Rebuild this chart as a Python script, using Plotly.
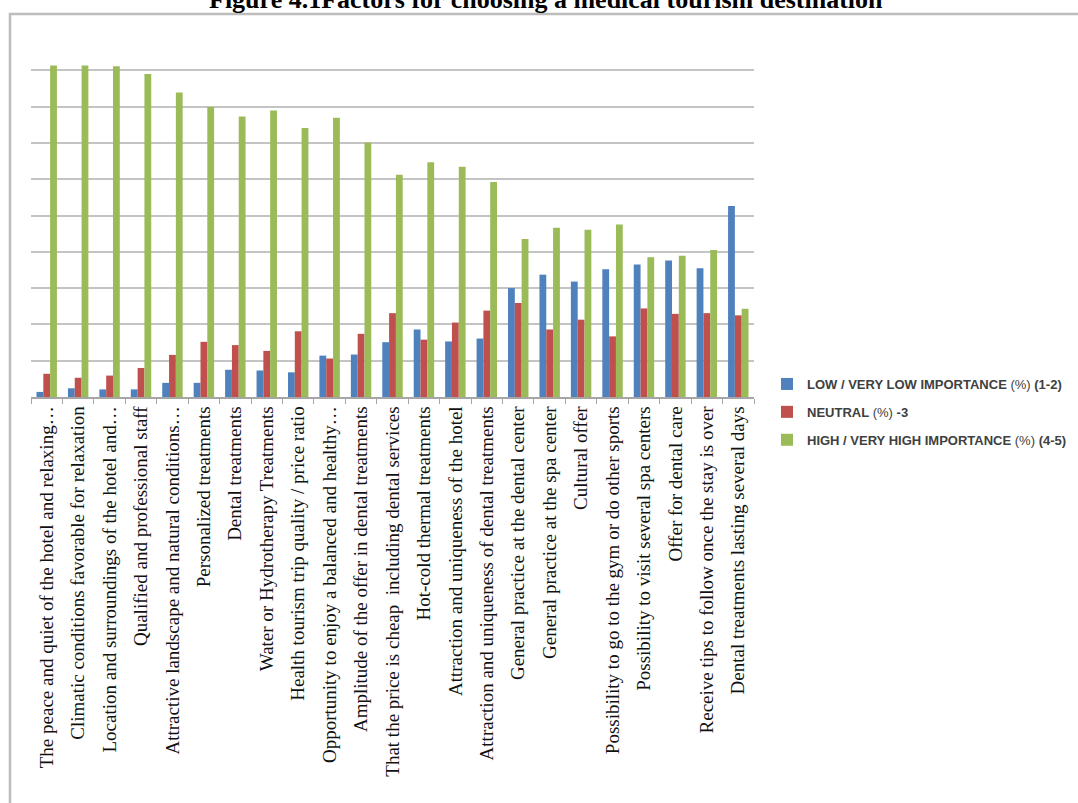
import plotly.graph_objects as go

# Survey factors (x-axis categories)
factors = [
    "The peace and quiet of the hotel and relaxing…",
    "Climatic conditions favorable for relaxation",
    "Location and surroundings of the hotel and…",
    "Qualified and professional staff",
    "Attractive landscape and natural conditions…",
    "Personalized treatments",
    "Dental treatments",
    "Water or Hydrotherapy Treatments",
    "Health tourism trip quality / price ratio",
    "Opportunity to enjoy a balanced and healthy…",
    "Amplitude of the offer in dental treatments",
    "That the price is cheap  including dental services",
    "Hot-cold thermal treatments",
    "Attraction and uniqueness of the hotel",
    "Attraction and uniqueness of dental treatments",
    "General practice at the dental center",
    "General practice at the spa center",
    "Cultural offer",
    "Possibility to go to the gym or do other sports",
    "Possibility to visit several spa centers",
    "Offer for dental care",
    "Receive tips to follow once the stay is over",
    "Dental treatments lasting several days",
]

# Share of respondents (%) per importance level
low_importance = [1.4, 2.4, 2.1, 2.1, 3.9, 3.9, 7.5, 7.3, 6.8, 11.4, 11.7, 15.1,
                  18.6, 15.3, 16.1, 30.0, 33.7, 31.8, 35.2, 36.5, 37.6, 35.5, 52.6]
neutral = [6.4, 5.3, 5.9, 8.0, 11.6, 15.2, 14.3, 12.7, 18.1, 10.6, 17.4, 23.1,
           15.8, 20.5, 23.8, 25.9, 18.6, 21.3, 16.7, 24.4, 22.9, 23.1, 22.5]
high_importance = [91.3, 91.3, 91.1, 89.0, 83.9, 79.9, 77.3, 78.9, 74.1, 76.9, 70.1, 61.2,
                   64.7, 63.4, 59.2, 43.5, 46.6, 46.1, 47.5, 38.5, 38.9, 40.5, 24.3]

series_names = [
    "<b>LOW / VERY LOW IMPORTANCE</b> (%) <b>(1-2)</b>",
    "<b>NEUTRAL</b> (%) <b>-3</b>",
    "<b>HIGH / VERY HIGH IMPORTANCE</b> (%) <b>(4-5)</b>",
]
series_colors = ["#4F81BD", "#C0504D", "#9BBB59"]

W, H = 1078, 803
L, R, T, B = 31, 754, 34, 397  # plot area in pixels
pw, ph = R - L, B - T


def px_x(x):
    return (x - L) / pw


def px_y(y):
    return (B - y) / ph


fig = go.Figure()
for i, (name, vals, col) in enumerate(zip(series_names,
                                          [low_importance, neutral, high_importance],
                                          series_colors)):
    fig.add_trace(go.Bar(
        x=factors, y=vals, name=name, marker_color=col,
        marker_line_width=0, legendgroup=str(i),
    ))

fig.update_layout(
    width=W, height=H,
    margin=dict(l=L, r=W - R, t=T, b=H - B, pad=0, autoexpand=False),
    paper_bgcolor="white", plot_bgcolor="white",
    barmode="group", bargap=0.35, bargroupgap=0,
    showlegend=True,
    legend=dict(
        x=px_x(767), y=px_y(369), xanchor="left", yanchor="top",
        font=dict(family="Liberation Sans, Arial, sans-serif", size=13, color="#404040"),
        traceorder="grouped", tracegroupgap=8,
        bgcolor="rgba(0,0,0,0)", borderwidth=0,
    ),
    font=dict(family="Liberation Serif, Times New Roman, serif", color="#000000"),
)

fig.update_xaxes(
    type="category", tickangle=-90,
    tickfont=dict(family="Liberation Serif, Times New Roman, serif", size=19, color="#111111"),
    showline=True, linecolor="#A6A6A6", linewidth=1.5,
    ticks="outside", tickson="boundaries", ticklen=5, tickcolor="#A6A6A6", tickwidth=1,
    showgrid=False,
)
fig.update_yaxes(
    range=[0, 100], dtick=10, showticklabels=False,
    showgrid=True, gridcolor="#C4C4C4", gridwidth=2,
    zeroline=False, showline=False,
)

# Outer chart frame
fig.add_shape(type="rect", xref="paper", yref="paper",
              x0=px_x(10), x1=px_x(1090), y0=px_y(815), y1=px_y(14),
              line=dict(color="#BDBDBD", width=2.5), fillcolor="rgba(0,0,0,0)",
              layer="below")

# Figure caption
fig.add_annotation(
    text="<b>Figure 4.1Factors for choosing a medical tourism destination</b>",
    xref="paper", yref="paper", x=px_x(546), y=px_y(16),
    xanchor="center", yanchor="bottom", showarrow=False,
    font=dict(family="Liberation Serif, Times New Roman, serif", size=26, color="#000000"),
)

fig.write_html("out.html")
